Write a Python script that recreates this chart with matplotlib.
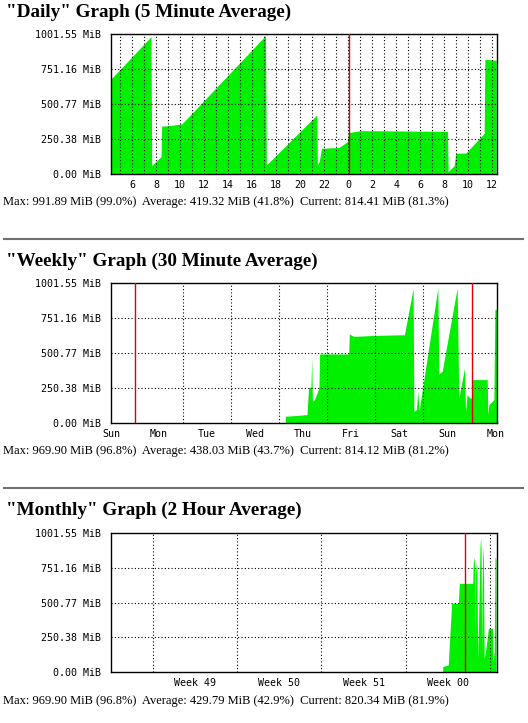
import matplotlib
matplotlib.use("Agg")
import matplotlib.pyplot as plt

# ---- data ----
y_ticks = [0.0, 250.38, 500.77, 751.16, 1001.55]
y_labels = ["0.00 MiB", "250.38 MiB", "500.77 MiB", "751.16 MiB", "1001.55 MiB"]

# daily: hours (24 = midnight of the second day)
daily_hours = [4.25, 7.58, 7.64, 8.42, 8.47, 9.0, 10.0, 10.14, 17.12, 17.19,
               21.39, 21.44, 21.6, 21.78, 23.25, 23.94, 24.05, 25.06, 32.28,
               32.33, 32.83, 32.97, 33.81, 35.33, 35.39, 36.33]
daily_values = [680, 982, 59, 124, 343, 345, 357, 357, 990, 64,
                422, 64, 90, 184, 190, 231, 296, 310, 305,
                17, 60, 148, 150, 291, 820, 814]
daily_tick_hours = list(range(6, 37, 2))
daily_tick_labels = [str(h % 24) for h in daily_tick_hours]

# weekly: days since the first red line
weekly_days = [3.125, 3.577, 3.61, 3.66, 3.675, 3.69, 3.73, 3.826, 3.84, 4.444,
               4.458, 4.55, 5.0, 5.604, 5.785, 5.80, 5.854, 5.882, 5.91, 5.9375,
               5.951, 6.299, 6.319, 6.34, 6.39, 6.701, 6.736, 6.854, 6.875, 6.91,
               6.965, 7.0, 7.014, 7.326, 7.34, 7.36, 7.465, 7.486, 7.535]
weekly_values = [48, 60, 251, 260, 471, 155, 165, 251, 495, 495,
                 638, 621, 628, 633, 963, 84, 95, 227, 84, 155,
                 179, 968, 347, 358, 370, 968, 179, 394, 84, 203,
                 179, 179, 311, 311, 60, 131, 167, 813, 813]
weekly_tick_pos = [-0.5, 0.5, 1.5, 2.5, 3.5, 4.5, 5.5, 6.5, 7.5]
weekly_tick_labels = ["Sun", "Mon", "Tue", "Wed", "Thu", "Fri", "Sat", "Sun", "Mon"]

# monthly: weeks since start of week 49
monthly_weeks = [3.441, 3.508, 3.520, 3.548, 3.627, 3.639, 3.798, 3.805, 3.813,
                 3.822, 3.826, 3.830, 3.840, 3.848, 3.858, 3.866, 3.885, 3.893,
                 3.898, 3.905, 3.910, 3.920, 3.926, 3.934, 3.950, 3.970, 3.985,
                 4.035, 4.040, 4.055, 4.063, 4.075]
monthly_values = [41, 53, 196, 495, 495, 638, 638, 780, 829,
                  760, 268, 700, 780, 760, 100, 300, 900, 973,
                  860, 148, 600, 913, 800, 100, 148, 244, 315,
                  315, 76, 150, 829, 810]
monthly_tick_pos = [0.5, 1.5, 2.5, 3.5]
monthly_tick_labels = ["Week 49", "Week 50", "Week 51", "Week 00"]

titles = ['"Daily" Graph (5 Minute Average)',
          '"Weekly" Graph (30 Minute Average)',
          '"Monthly" Graph (2 Hour Average)']
stats = ["Max: 991.89 MiB (99.0%)  Average: 419.32 MiB (41.8%)  Current: 814.41 MiB (81.3%)",
         "Max: 969.90 MiB (96.8%)  Average: 438.03 MiB (43.7%)  Current: 814.12 MiB (81.2%)",
         "Max: 969.90 MiB (96.8%)  Average: 429.79 MiB (42.9%)  Current: 820.34 MiB (81.9%)"]

W, H = 528, 723
fig = plt.figure(figsize=(W / 100, H / 100), dpi=100)
fig.patch.set_facecolor("white")

GREEN = "#00f000"
RED = "#e00000"
MONO = "DejaVu Sans Mono"
SERIF = ["Liberation Serif", "DejaVu Serif"]
DOT = (0, (1, 2))


def px_axes(left, top, right, bottom):
    return fig.add_axes([left / W, 1 - bottom / H, (right - left) / W, (bottom - top) / H])


def panel(top, bottom, xlim, xs, ys, xticks, xlabels, vgrid, reds, title_y, stats_y, title, stat):
    ax = px_axes(111, top, 497, bottom)
    ax.fill_between(xs, ys, 0, color=GREEN, linewidth=0, zorder=1)
    for g in y_ticks[1:-1]:
        ax.axhline(g, color="black", lw=0.8, ls=DOT, zorder=2)
    for g in vgrid:
        ax.axvline(g, color="black", lw=0.8, ls=DOT, zorder=2)
    for r in reds:
        ax.axvline(r, color=RED, lw=1.0, zorder=3)
    ax.set_xlim(*xlim)
    ax.set_ylim(0, 1001.55)
    ax.set_yticks(y_ticks)
    ax.set_yticklabels(y_labels, fontfamily=MONO, fontsize=7.2)
    ax.set_xticks(xticks)
    ax.set_xticklabels(xlabels, fontfamily=MONO, fontsize=7.2)
    ax.tick_params(length=0, pad=4)
    ax.tick_params(axis="y", pad=7)
    for s in ax.spines.values():
        s.set_color("black")
        s.set_linewidth(1.0)
    fig.text(6 / W, 1 - title_y / H, title, family=SERIF, fontweight="bold",
             fontsize=13.8, va="center", ha="left")
    fig.text(3 / W, 1 - stats_y / H, stat, family=SERIF, fontsize=9.0,
             va="center", ha="left")
    return ax


panel(34, 174, (4.25, 36.4), daily_hours, daily_values,
      daily_tick_hours, daily_tick_labels, list(range(5, 37)), [24.05],
      12, 202, titles[0], stats[0])

panel(283.3, 423, (-0.5, 7.53), weekly_days, weekly_values,
      weekly_tick_pos, weekly_tick_labels, [1, 2, 3, 4, 5, 6], [0, 7],
      261, 451, titles[1], stats[1])

panel(532.7, 672.3, (-0.503, 4.087), monthly_weeks, monthly_values,
      monthly_tick_pos, monthly_tick_labels, [0, 1, 2, 3, 4], [3.71],
      510, 701, titles[2], stats[2])

# horizontal separators (html <hr>)
for yy in (238.7, 487.7):
    fig.add_artist(plt.Line2D([4 / W, 523 / W], [1 - yy / H, 1 - yy / H],
                              color="#707070", lw=1.5, transform=fig.transFigure))

fig.savefig("out.png", dpi=100)
